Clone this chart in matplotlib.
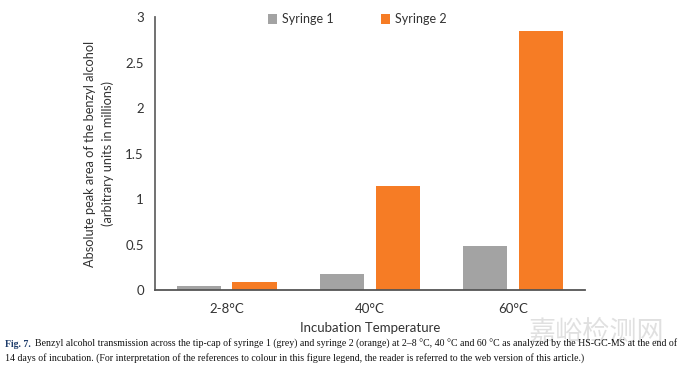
import numpy as np
import matplotlib.pyplot as plt

categorie = ["2-8°C", "40°C", "60°C"]
syringe1 = [0.04, 0.18, 0.48]
syringe2 = [0.09, 1.14, 2.85]
serie = ["Syringe 1", "Syringe 2"]
colori = ["#a3a3a3", "#f67c25"]

plt.rcParams['font.family'] = ['Lato', 'DejaVu Sans']

fig = plt.figure(figsize=(6.8, 3.71), dpi=100)
ax = fig.add_axes([0.228, 0.218, 0.632, 0.736])

x = np.arange(len(categorie))
w = 0.31
ax.bar(x - 0.195, syringe1, w, color=colori[0], label=serie[0])
ax.bar(x + 0.195, syringe2, w, color=colori[1], label=serie[1])

ax.set_xlim(-0.5, 2.5)
ax.set_ylim(0, 3)
ax.set_yticks([0, 0.5, 1, 1.5, 2, 2.5, 3])
ax.set_yticklabels(["0", "0.5", "1", "1.5", "2", "2.5", "3"])
ax.set_xticks(x)
ax.set_xticklabels(categorie)
ax.tick_params(length=0, labelsize=9.5, colors="#333333", pad=8)
ax.tick_params(axis='x', pad=9)
for s in ["top", "right"]:
    ax.spines[s].set_visible(False)
ax.spines["left"].set_color("#666666")
ax.spines["bottom"].set_color("#555555")
ax.spines["left"].set_linewidth(1.3)
ax.spines["bottom"].set_linewidth(1.3)

ax.set_ylabel("Absolute peak area of the benzyl alcohol\n(arbitrary units in millions)",
              fontsize=9.2, color="#333333", labelpad=8, linespacing=1.55)
ax.set_xlabel("Incubation Temperature", fontsize=9.5, color="#333333", labelpad=5)

ax.legend(loc="upper center", bbox_to_anchor=(0.47, 1.055), ncol=2, frameon=False,
          fontsize=9, handlelength=0.75, handleheight=0.75, handletextpad=0.35,
          columnspacing=3.8, labelcolor="#333333")

cap1 = ("Benzyl alcohol transmission across the tip-cap of syringe 1 (grey) and syringe 2 (orange) "
        "at 2–8 °C, 40 °C and 60 °C as analyzed by the HS-GC-MS at the end of")
cap2 = ("14 days of incubation. (For interpretation of the references to colour in this figure legend, "
        "the reader is referred to the web version of this article.)")
fig.text(0.008, 0.066, "Fig. 7.", fontsize=7.1, family="Liberation Serif", weight="bold", color="#1f3d6b")
fig.text(0.052, 0.066, cap1, fontsize=7.1, family="Liberation Serif", color="#111111")
fig.text(0.008, 0.028, cap2, fontsize=7.1, family="Liberation Serif", color="#111111")

fig.text(0.778, 0.083, "嘉峪检测网", fontsize=19.5, family=["Noto Sans CJK SC", "DejaVu Sans"],
         color="#d4d4d4", alpha=0.7, zorder=-1)

fig.savefig("out.png", dpi=100)
